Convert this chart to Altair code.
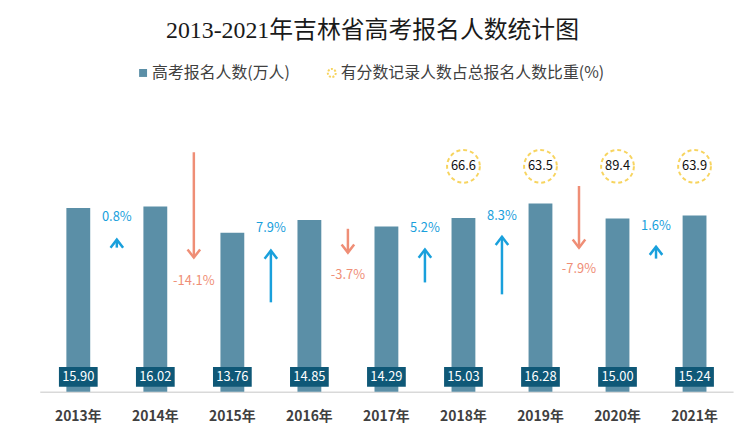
import altair as alt
import pandas as pd

# ---- data ----
years = ['2013年', '2014年', '2015年', '2016年', '2017年', '2018年', '2019年', '2020年', '2021年']
applicants = [15.90, 16.02, 13.76, 14.85, 14.29, 15.03, 16.28, 15.00, 15.24]

ratio_years = ['2018年', '2019年', '2020年', '2021年']
ratio = [66.6, 63.5, 89.4, 63.9]

changes = [0.8, -14.1, 7.9, -3.7, 5.2, 8.3, -7.9, 1.6]
arrow_start = [12.47, 20.72, 7.74, 14.10, 9.46, 8.43, 17.80, 11.52]
arrow_end = [13.16, 11.61, 12.21, 12.04, 12.30, 13.41, 12.47, 12.55]
label_y = [15.13, 9.54, 14.19, 10.06, 14.19, 15.22, 10.66, 14.36]

title_text = '2013-2021年吉林省高考报名人数统计图'
legend_bar = '高考报名人数(万人)'
legend_ratio = '有分数记录人数占总报名人数比重(%)'

# ---- styles ----
BAR = '#5b8fa7'
BOX = '#0f5877'
BLUE = '#19a0dc'
ORANGE = '#ef8e76'
GOLD = '#f5c31c'
FONT = 'Noto Sans CJK SC'

UP = 'M-1,1.3L0,0L1,1.3'
DOWN = 'M-1,-1.3L0,0L1,-1.3'

bars_df = pd.DataFrame({'year': years, 'value': applicants,
                        'label': [f'{v:.2f}' for v in applicants]})
ratio_df = pd.DataFrame({'year': ratio_years, 'ratio': ratio,
                         'label': [f'{v:.1f}' for v in ratio]})
chg_df = pd.DataFrame({
    'pos': [i + 0.5 for i in range(len(changes))],
    'change': changes,
    'start': arrow_start,
    'end': arrow_end,
    'ly': label_y,
    'label': [f'{c:.1f}%' for c in changes],
    'dir': ['up' if c > 0 else 'down' for c in changes],
})

yscale = alt.Scale(domain=[0, 25])
xband = alt.X('year:N', scale=alt.Scale(domain=years, paddingInner=0, paddingOuter=0),
              axis=alt.Axis(title=None, labelAngle=0, ticks=False, domainColor='#d9d9d9',
                            domainWidth=1.5, labelFont=FONT, labelFontSize=14,
                            labelFontWeight='bold', labelColor='#404040', labelPadding=18))
xband_noaxis = alt.X('year:N', scale=alt.Scale(domain=years, paddingInner=0, paddingOuter=0),
                     axis=None)

bars = alt.Chart(bars_df).mark_bar(size=24, color=BAR).encode(
    x=xband, y=alt.Y('value:Q', scale=yscale, axis=None))

boxes = alt.Chart(bars_df).mark_bar(size=39, color=BOX).encode(
    x=xband_noaxis, y=alt.value(266), y2=alt.value(286))

box_text = alt.Chart(bars_df).mark_text(color='white', font=FONT, fontSize=13,
                                        baseline='middle').encode(
    x=xband_noaxis, y=alt.value(276), text='label:N')

circles = alt.Chart(ratio_df).mark_point(shape='circle', size=1089, filled=False,
                                         stroke=GOLD, strokeWidth=2,
                                         strokeDash=[4, 3]).encode(
    x=xband_noaxis, y=alt.value(64))

circle_text = alt.Chart(ratio_df).mark_text(color='#111111', font=FONT, fontSize=13,
                                            baseline='middle').encode(
    x=xband_noaxis, y=alt.value(64), text='label:N')

xq = alt.X('pos:Q', scale=alt.Scale(domain=[-0.5, 8.5]), axis=None)
col = alt.Color('dir:N', scale=alt.Scale(domain=['up', 'down'], range=[BLUE, ORANGE]),
                legend=None)

shafts = alt.Chart(chg_df).mark_rule(strokeWidth=2.5).encode(
    x=xq, y=alt.Y('start:Q', scale=yscale), y2='end:Q', color=col)

heads = alt.Chart(chg_df).mark_point(filled=False, size=160, strokeWidth=2.5,
                                     opacity=1).encode(
    x=xq, y=alt.Y('end:Q', scale=yscale),
    shape=alt.Shape('dir:N', scale=alt.Scale(domain=['up', 'down'], range=[UP, DOWN]),
                    legend=None),
    color=col)

chg_text = alt.Chart(chg_df).mark_text(font=FONT, fontSize=13, baseline='middle').encode(
    x=xq, y=alt.Y('ly:Q', scale=yscale), text='label:N', color=col)

one = pd.DataFrame({'t': [0]})
title = alt.Chart(one).mark_text(text=title_text, font='Liberation Serif, ' + FONT,
                                 fontSize=24, color='#1a1a1a', baseline='middle').encode(
    x=alt.value(335), y=alt.value(-72))

leg_sq = alt.Chart(one).mark_point(shape='square', size=64, filled=True, color=BAR,
                                   opacity=1).encode(x=alt.value(104), y=alt.value(-30))
leg_t1 = alt.Chart(one).mark_text(text=legend_bar, font=FONT, fontSize=16, color='#404040',
                                  align='left', baseline='middle').encode(
    x=alt.value(113), y=alt.value(-30))
leg_c = alt.Chart(one).mark_point(shape='circle', size=64, filled=False, stroke=GOLD,
                                  strokeWidth=2, strokeDash=[2, 1.5]).encode(
    x=alt.value(294), y=alt.value(-30))
leg_t2 = alt.Chart(one).mark_text(text=legend_ratio, font=FONT, fontSize=16, color='#404040',
                                  align='left', baseline='middle').encode(
    x=alt.value(303), y=alt.value(-30))

chart = alt.layer(
    bars, boxes, box_text, circles, circle_text, shafts, heads, chg_text,
    title, leg_sq, leg_t1, leg_c, leg_t2
).resolve_scale(x='independent').properties(
    width=698, height=291, autosize='none',
    padding={'left': 32, 'top': 94, 'right': 8, 'bottom': 31},
    background='white'
).configure_view(stroke=None)

chart.save('out.html', embed_options={'renderer': 'svg', 'actions': False})
